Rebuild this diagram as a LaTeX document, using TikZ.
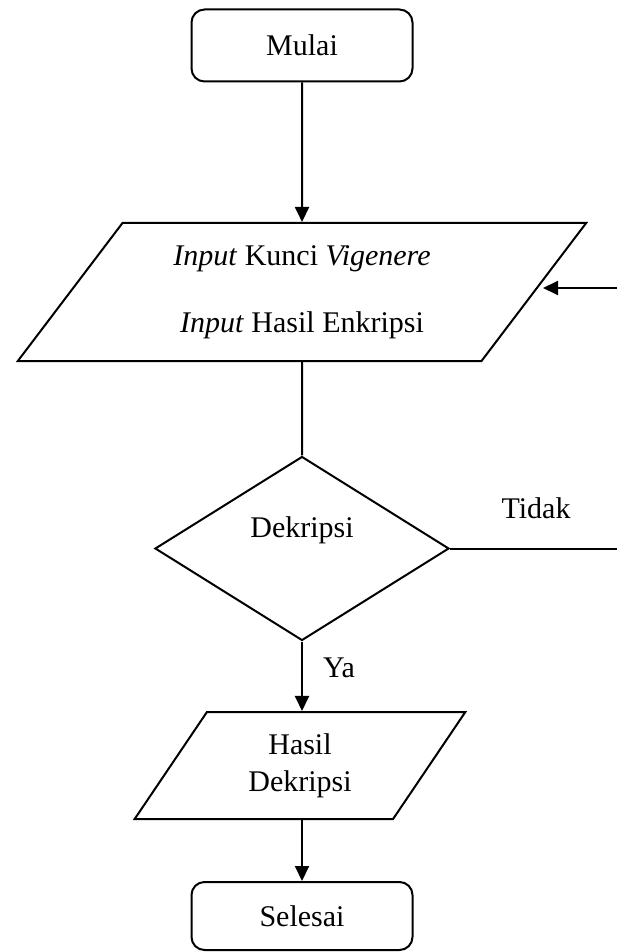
\documentclass[tikz,border=0pt]{standalone}
\usepackage{fontspec}
\setmainfont{Liberation Serif}
\usetikzlibrary{arrows.meta,shapes.geometric}

\begin{document}
\begin{tikzpicture}[
    x = 0.5pt, y = -0.5pt, % one unit is one pixel of the page
    > = {Triangle[length=7.5pt,width=7pt]}, % arrow head style
    line width = 1pt,
    font = \fontsize{15}{18}\selectfont
    ]

    \tikzset{
    terminal/.style = {draw, rectangle, rounded corners=6.5pt,
        minimum width=110.5pt, minimum height=36pt, inner sep=0pt},
    io/.style = {draw, trapezium, trapezium stretches=true,
        align=center, inner sep=0pt},
    decision/.style = {draw, diamond, aspect=1.6, inner sep=0pt,
        minimum width=147pt, minimum height=92pt}
    }

    \useasboundingbox (0,0) rectangle (616,952);

    \node[terminal] (mulai) at (302,45.5) {Mulai};
    \node[io, trapezium left angle=51.2, trapezium right angle=128.8,
        minimum width=285pt, minimum height=69pt] (in) at (302,292)
        {\textit{Input} Kunci \textit{Vigenere}\\[15.5pt]
         \textit{Input} Hasil Enkripsi};
    \node[decision, text height=11pt, text depth=22pt] (dek) at (302,548.5) {Dekripsi};
    \node[io, trapezium left angle=58, trapezium right angle=122,
        minimum width=167pt, minimum height=53.5pt] (hasil) at (300,765.5)
        {Hasil\\[0.5pt] Dekripsi};
    \node[terminal, minimum height=34pt] (selesai) at (302,916) {Selesai};

    \coordinate (balik) at (620,288);
    \coordinate (tip) at (543,288);

    \path[->] (mulai) edge (in);
    \path (in) edge (dek);
    \path[->] (dek.south) edge node[pos=0.5, anchor=base west, inner sep=0pt,
        xshift=10pt, yshift=-0.75pt] {Ya} (dek.south |- hasil.north);
    \path[->] (hasil.south -| selesai.north) edge (selesai);
    \draw[->] (dek.east) -- node[pos=0.506, anchor=base, inner sep=0pt,
        yshift=15pt] {Tidak} (dek.east -| balik) -- (balik) -- (tip);

    \end{tikzpicture}
\end{document}
